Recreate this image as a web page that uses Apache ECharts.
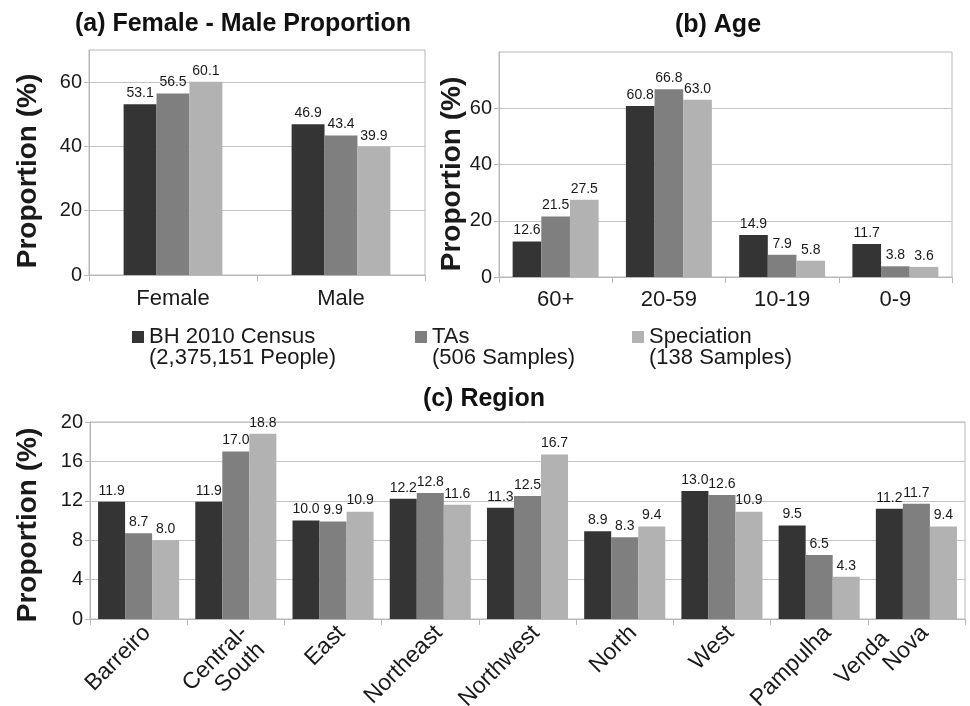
<!DOCTYPE html>
<html>
<head>
<meta charset="utf-8">
<script src="https://cdn.jsdelivr.net/npm/echarts@6/dist/echarts.min.js"></script>
<style>
  html, body { margin: 0; padding: 0; background: #ffffff; }
  #chart { width: 970px; height: 706px; }
</style>
</head>
<body>
<div id="chart"></div>
<script>
// Groups shown in every panel
const groupNames = ['BH 2010 Census', 'TAs', 'Speciation'];
const groupNotes = ['(2,375,151 People)', '(506 Samples)', '(138 Samples)'];

// (a) sex split, %
const sexCategories = ['Female', 'Male'];
const sexCensus = [53.1, 46.9];
const sexTAs = [56.5, 43.4];
const sexSpeciation = [60.1, 39.9];
const sexTickLabels = [0, 20, 40, 60];

// (b) age bands, %
const ageCategories = ['60+', '20-59', '10-19', '0-9'];
const ageCensus = [12.6, 60.8, 14.9, 11.7];
const ageTAs = [21.5, 66.8, 7.9, 3.8];
const ageSpeciation = [27.5, 63.0, 5.8, 3.6];
const ageTickLabels = [0, 20, 40, 60];

// (c) city regions, %
const regionCategories = ['Barreiro', 'Central-South', 'East', 'Northeast', 'Northwest',
  'North', 'West', 'Pampulha', 'Venda Nova'];
const regionCensus = [11.9, 11.9, 10.0, 12.2, 11.3, 8.9, 13.0, 9.5, 11.2];
const regionTAs = [8.7, 17.0, 9.9, 12.8, 12.5, 8.3, 12.6, 6.5, 11.7];
const regionSpeciation = [8.0, 18.8, 10.9, 11.6, 16.7, 9.4, 10.9, 4.3, 9.4];
const regionTickLabels = [0, 4, 8, 12, 16, 20];

const FONT = '"Liberation Sans", Arial, Helvetica, sans-serif';
const INK = '#1a1a1a';
const GRID_GRAY = '#c4c4c4';
const AXIS_GRAY = '#b8b8b8';
const barColors = ['#343434', '#7f7f7f', '#b2b2b2'];

function barSeries(gridIdx, valueSets, barWidth, labelSize) {
  return valueSets.map((vals, i) => ({
    name: groupNames[i],
    type: 'bar',
    xAxisIndex: gridIdx,
    yAxisIndex: gridIdx,
    data: vals,
    barWidth: barWidth,
    barGap: '0%',
    itemStyle: { color: barColors[i] },
    label: {
      show: true,
      position: 'top',
      distance: 4,
      fontFamily: FONT,
      fontSize: labelSize,
      color: INK,
      formatter: p => Number(p.value).toFixed(1)
    },
    emphasis: { disabled: true },
    animation: false
  }));
}

function valueAxis(gridIdx, max, step, labelValues, nameGap, namePad, labelSize) {
  return {
    gridIndex: gridIdx,
    type: 'value',
    min: 0,
    max: max,
    interval: step,
    axisLine: { show: true, lineStyle: { color: AXIS_GRAY } },
    axisTick: { show: true, length: 5, customValues: labelValues, lineStyle: { color: AXIS_GRAY } },
    splitLine: { show: true, lineStyle: { color: GRID_GRAY, width: 1 } },
    axisLabel: {
      customValues: labelValues,
      formatter: v => (labelValues.indexOf(v) >= 0 ? String(v) : ''),
      fontFamily: FONT,
      fontSize: labelSize,
      color: INK,
      margin: 7
    },
    name: 'Proportion (%)',
    nameLocation: 'middle',
    nameRotate: 90,
    nameGap: nameGap,
    nameTextStyle: {
      fontFamily: FONT,
      fontSize: 28,
      fontWeight: 'bold',
      color: INK,
      padding: [0, namePad, 0, 0]
    }
  };
}

function categoryAxis(gridIdx, cats, labelOpts) {
  return {
    gridIndex: gridIdx,
    type: 'category',
    data: cats,
    axisLine: { show: true, lineStyle: { color: AXIS_GRAY } },
    axisTick: { show: true, length: 6, lineStyle: { color: AXIS_GRAY } },
    splitLine: { show: false },
    axisLabel: Object.assign({
      fontFamily: FONT,
      fontSize: 22,
      color: INK,
      margin: 10,
      interval: 0
    }, labelOpts)
  };
}

// Wrapped text for the long region names
const regionLabelText = {
  'Central-South': 'Central-\nSouth',
  'Venda Nova': 'Venda\u00a0\u00a0\u00a0\u00a0\u00a0\nNova'
};
// "Venda Nova" sits centred on its anchor rather than hanging below it
const regionAxisData = regionCategories.map(c =>
  c === 'Venda Nova' ? { value: c, textStyle: { verticalAlign: 'middle' } } : c);

const legendSpots = [132, 415, 632];

// Fixed plot rectangles; labels are allowed to sit outside them
const gridBase = { show: true, borderColor: AXIS_GRAY, borderWidth: 1, containLabel: false, outerBoundsMode: 'none' };

const chart = echarts.init(document.getElementById('chart'), null, { renderer: 'canvas' });

const option = {
  backgroundColor: '#ffffff',
  animation: false,
  textStyle: { fontFamily: FONT },
  title: [
    { text: '(a) Female - Male Proportion', left: 243, top: 12, textAlign: 'center', padding: 0,
      textStyle: { fontFamily: FONT, fontSize: 25, fontWeight: 'bold', color: '#111' } },
    { text: '(b) Age', left: 718, top: 13, textAlign: 'center', padding: 0,
      textStyle: { fontFamily: FONT, fontSize: 25, fontWeight: 'bold', color: '#111' } },
    { text: '(c) Region', left: 484, top: 387, textAlign: 'center', padding: 0,
      textStyle: { fontFamily: FONT, fontSize: 25, fontWeight: 'bold', color: '#111' } }
  ],
  legend: groupNames.map((name, i) => ({
    data: [name],
    left: legendSpots[i],
    top: 326,
    padding: 0,
    icon: 'rect',
    itemWidth: 12,
    itemHeight: 12,
    selectedMode: false,
    textStyle: { fontFamily: FONT, fontSize: 22, color: INK }
  })),
  graphic: groupNotes.map((note, i) => ({
    type: 'text',
    left: legendSpots[i] + 17,
    top: 347,
    silent: true,
    style: { text: note, fontFamily: FONT, fontSize: 22, fill: INK }
  })),
  grid: [
    Object.assign({ left: 89, top: 50, width: 336, height: 225 }, gridBase),
    Object.assign({ left: 499, top: 52, width: 453, height: 225 }, gridBase),
    Object.assign({ left: 90, top: 422, width: 875, height: 197 }, gridBase)
  ],
  xAxis: [
    categoryAxis(0, sexCategories, { margin: 13 }),
    categoryAxis(1, ageCategories, { margin: 12 }),
    categoryAxis(2, regionAxisData, {
      rotate: 45,
      fontSize: 23,
      lineHeight: 24,
      margin: 2,
      verticalAlign: 'top',
      formatter: v => regionLabelText[v] || v
    })
  ],
  yAxis: [
    valueAxis(0, 70, 10, sexTickLabels, 47, 17, 20),
    valueAxis(1, 80, 10, ageTickLabels, 21, 19, 20),
    valueAxis(2, 20, 2, regionTickLabels, 48, 9, 20)
  ],
  series: [].concat(
    barSeries(0, [sexCensus, sexTAs, sexSpeciation], '19.6%', 14),
    barSeries(1, [ageCensus, ageTAs, ageSpeciation], '25.3%', 14),
    barSeries(2, [regionCensus, regionTAs, regionSpeciation], '27.8%', 14)
  )
};

chart.setOption(option);
</script>
</body>
</html>
